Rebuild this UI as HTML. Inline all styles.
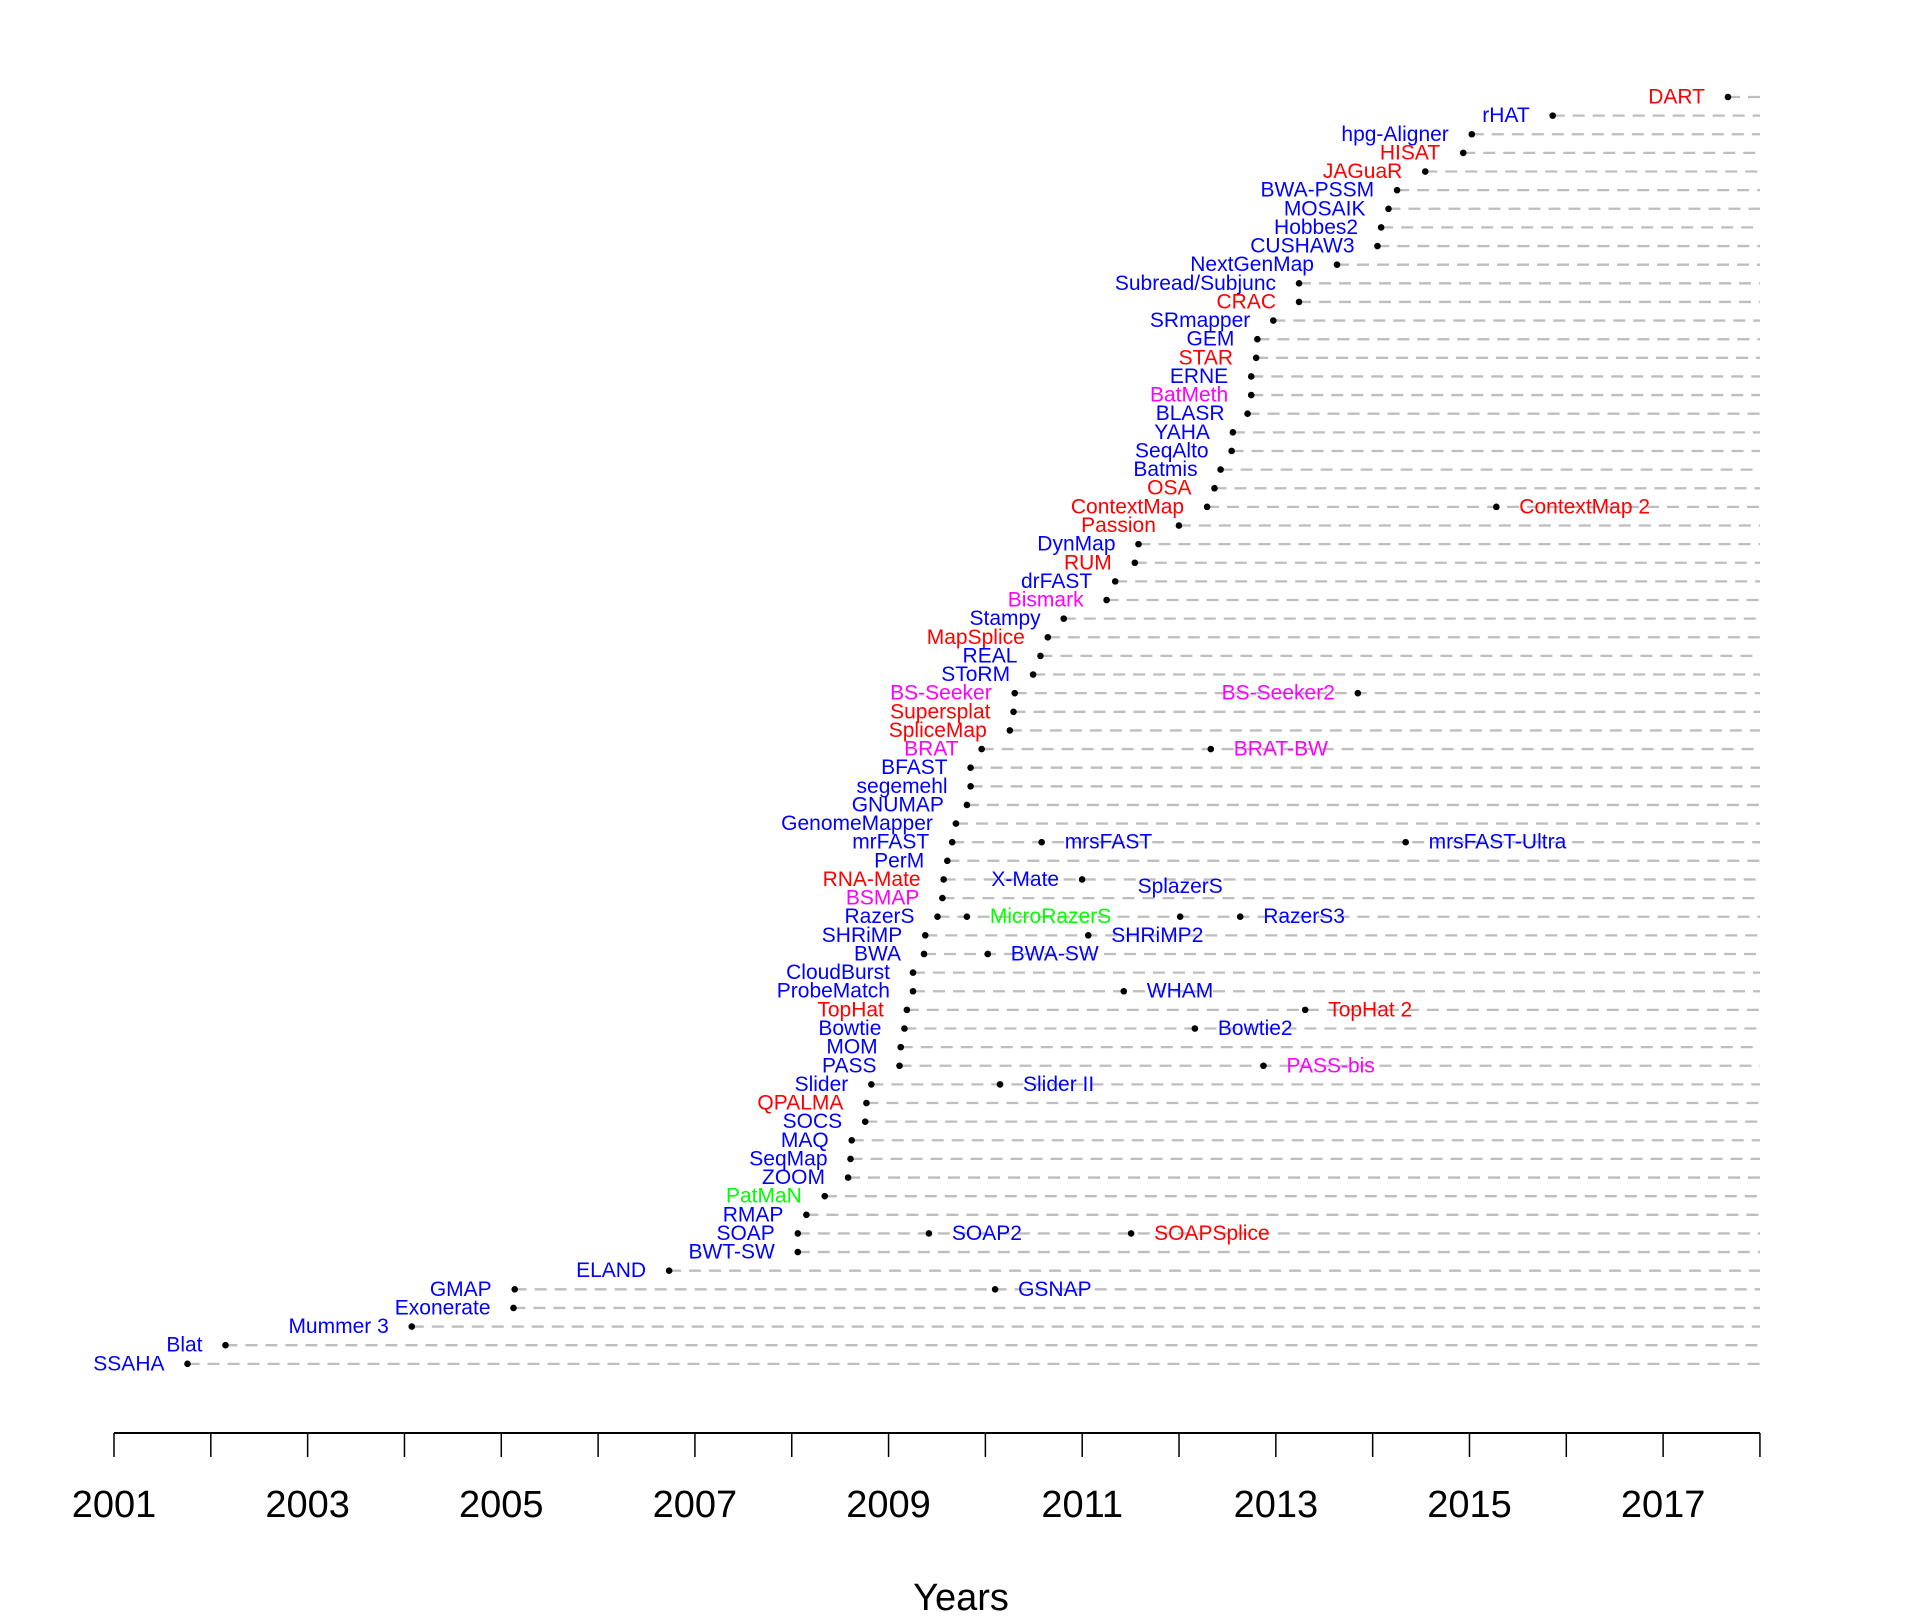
<!DOCTYPE html>
<html><head><meta charset="utf-8"><style>
html,body{margin:0;padding:0;background:#fff;}
svg text{font-family:"Liberation Sans",Arial,sans-serif;}
</style></head><body>
<svg id="s" xmlns="http://www.w3.org/2000/svg" width="1920" height="1619" viewBox="0 0 1920 1619"></svg>
<script>
const B="#0000ff",R="#ff0000",M="#ff00ff",G="#00ff00";
const rows=[
["DART",R,1410],["rHAT",B,1267],["hpg-Aligner",B,1201],["HISAT",R,1194],["JAGuaR",R,1163],
["BWA-PSSM",B,1140],["MOSAIK",B,1133],["Hobbes2",B,1127],["CUSHAW3",B,1124],["NextGenMap",B,1091],
["Subread/Subjunc",B,1060],["CRAC",R,1060],["SRmapper",B,1039],["GEM",B,1026],["STAR",R,1025],
["ERNE",B,1021],["BatMeth",M,1021],["BLASR",B,1018],["YAHA",B,1006],["SeqAlto",B,1005],
["Batmis",B,996],["OSA",R,991],["ContextMap",R,985,[[1221,"ContextMap 2",R,"r"]]],["Passion",R,962],
["DynMap",B,929],["RUM",R,926],["drFAST",B,910],["Bismark",M,903],["Stampy",B,868],["MapSplice",R,855],
["REAL",B,849],["SToRM",B,843],["BS-Seeker",M,828,[[1108,"BS-Seeker2",M,"l"]]],["Supersplat",R,827],
["SpliceMap",R,824],["BRAT",M,801,[[988,"BRAT-BW",M,"r"]]],["BFAST",B,792],["segemehl",B,792],
["GNUMAP",B,789],["GenomeMapper",B,780],["mrFAST",B,777,[[850,"mrsFAST",B,"r"],[1147,"mrsFAST-Ultra",B,"r"]]],
["PerM",B,773],["RNA-Mate",R,770,[[883,"X-Mate",B,"l"]]],["BSMAP",M,769],
["RazerS",B,765,[[789,"MicroRazerS",G,"r"],[963,"SplazerS",B,"t"],[1012,"RazerS3",B,"r"]]],
["SHRiMP",B,755,[[888,"SHRiMP2",B,"r"]]],["BWA",B,754,[[806,"BWA-SW",B,"r"]]],["CloudBurst",B,745],
["ProbeMatch",B,745,[[917,"WHAM",B,"r"]]],["TopHat",R,740,[[1065,"TopHat 2",R,"r"]]],
["Bowtie",B,738,[[975,"Bowtie2",B,"r"]]],["MOM",B,735],["PASS",B,734,[[1031,"PASS-bis",M,"r"]]],
["Slider",B,711,[[816,"Slider II",B,"r"]]],["QPALMA",R,707],["SOCS",B,706],["MAQ",B,695],["SeqMap",B,694],
["ZOOM",B,692],["PatMaN",G,673],["RMAP",B,658],["SOAP",B,651,[[758,"SOAP2",B,"r"],[923,"SOAPSplice",R,"r"]]],
["BWT-SW",B,651],["ELAND",B,546],["GMAP",B,420,[[812,"GSNAP",B,"r"]]],["Exonerate",B,419],
["Mummer 3",B,336],["Blat",B,184],["SSAHA",B,153]];
const K=1.2255;let h="";
const T=(x,y,s,c,a)=>`<text x="${x.toFixed(1)}" y="${y.toFixed(1)}" fill="${c}" font-size="21" text-anchor="${a}" dominant-baseline="central">${s}</text>`;
rows.forEach((r,i)=>{const y=97+i*18.63,x=r[2]*K;
h+=`<line x1="${x}" y1="${y}" x2="1760" y2="${y}" stroke="#bebebe" stroke-width="2.3" stroke-dasharray="12 8"/>`;});
rows.forEach((r,i)=>{const y=97+i*18.63,x=r[2]*K;
h+=`<circle cx="${x}" cy="${y}" r="3.3" fill="#000"/>`+T(x-23,y,r[0],r[1],"end");
(r[3]||[]).forEach(e=>{const ex=e[0]*K;h+=`<circle cx="${ex}" cy="${y}" r="3.3" fill="#000"/>`;
if(e[3]=="r")h+=T(ex+23,y,e[1],e[2],"start");else if(e[3]=="l")h+=T(ex-23,y,e[1],e[2],"end");else h+=T(ex,y-30,e[1],e[2],"middle");});});
h+=`<line x1="114" y1="1433" x2="1760" y2="1433" stroke="#000" stroke-width="2"/>`;
for(let k=0;k<=17;k++){const x=114+k*96.82;h+=`<line x1="${x}" y1="1433" x2="${x}" y2="1457" stroke="#000" stroke-width="1.5"/>`;
if(k%2==0&&k<17)h+=`<text x="${x}" y="1517" font-size="38" text-anchor="middle" fill="#000">${2001+k}</text>`;}
h+=`<text x="961" y="1610" font-size="38" text-anchor="middle" fill="#000">Years</text>`;
document.getElementById("s").innerHTML=h;
</script>
</body></html>
